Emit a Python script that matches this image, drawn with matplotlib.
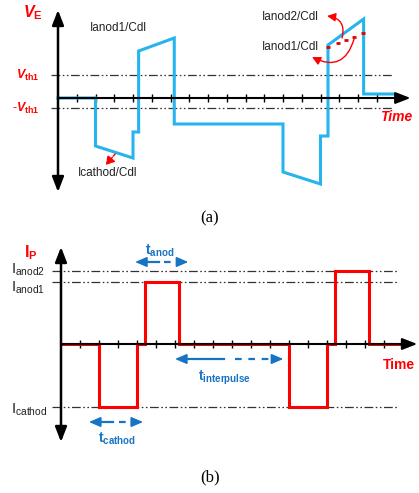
import matplotlib
matplotlib.use("Agg")
import matplotlib.pyplot as plt
import numpy as np

plt.rcParams['font.family'] = ['Liberation Sans', 'DejaVu Sans']
plt.rcParams['mathtext.fontset'] = 'custom'
plt.rcParams['mathtext.rm'] = 'Liberation Sans'
plt.rcParams['mathtext.it'] = 'Liberation Sans:style=italic:weight=bold'
plt.rcParams['mathtext.bf'] = 'Liberation Sans:weight=bold'

# ---------------- data ----------------
# (a) electrode voltage V_E versus time (schematic units)
ve_time = [0, 2, 2, 4, 4, 4.3, 4.3, 6.2, 6.2, 12, 12, 14, 14, 14.4, 14.4, 16.3, 16.3, 17.9]
ve_value = [0, 0, -48, -60, -34, -34, 47, 60, -26, -26, -74, -86, -38, -38, 53, 79, 4, 4]
vth_pos = 23
vth_neg = -10
ve_ticks = list(range(1, 18))
# red dots showing the Ianod1/Cdl slope in the last pulse
dots_time = [14.4, 14.93, 15.36, 15.79, 16.27]
dots_value = [51, 55, 58, 61, 65]

# (b) pulse current I_P versus time
ip_time = [0, 2, 2, 4, 4, 4.4, 4.4, 6.2, 6.2, 12, 12, 14, 14, 14.4, 14.4, 16.2, 16.2, 17.8]
ip_value = [0, 0, -63, -63, 0, 0, 62, 62, 0, 0, -63, -63, 0, 0, 73, 73, 0, 0]
i_anod2 = 73
i_anod1 = 62
i_cathod = -63
ip_ticks = list(range(1, 18))

W, H = 419, 493
fig = plt.figure(figsize=(W / 100, H / 100), dpi=100)

BLUE = '#25B4EC'
RED = '#FF0000'
ABLUE = '#1773C4'
DDASH = (0, (7, 2, 1.3, 2, 1.3, 2))


def axes_px(top, bottom):
    return fig.add_axes([0, 1 - bottom / H, 1, (bottom - top) / H])


# ---------------- panel (a) ----------------
axa = axes_px(0, 200)
x0a, sa = 58, 18.75
axa.set_xlim(-x0a / sa, (W - x0a) / sa)
axa.set_ylim(98 - 200, 98)
axa.axis('off')

for lvl in (vth_pos, vth_neg):
    axa.plot([-0.37, 17.87], [lvl, lvl], color='#333333', lw=0.9, ls=DDASH)
# axes
axa.annotate('', xy=(0, 88), xytext=(0, -94),
             arrowprops=dict(arrowstyle='<|-|>,head_length=0.9,head_width=0.35', lw=1.8,
                             color='black', shrinkA=0, shrinkB=0))
axa.annotate('', xy=(18.8, 0), xytext=(0, 0),
             arrowprops=dict(arrowstyle='-|>,head_length=0.9,head_width=0.35', lw=1.5,
                             color='black', shrinkA=0, shrinkB=0))
axa.plot(ve_ticks, np.zeros(len(ve_ticks)), ls='none', marker='|', ms=6, mew=1.0, color='black')
axa.plot(ve_time, ve_value, color=BLUE, lw=2.2, solid_joinstyle='miter')
axa.plot(dots_time, dots_value, ls='none', marker='_', ms=3, mew=2.0, color='#E00000')

axa.text(-1.33, 85, r'$\mathit{V}_{\mathbf{E}}$', color=RED, fontsize=11.5, ha='center', va='center')
axa.text(-1.0, vth_pos, r'$\mathit{V}_{\mathbf{th1}}$', color=RED, fontsize=9, ha='right', va='center')
axa.text(-1.0, vth_neg, r'-$\mathit{V}_{\mathbf{th1}}$', color=RED, fontsize=9, ha='right', va='center')
axa.text(1.71, 70, 'Ianod1/Cdl', fontsize=8.5, color='#222222', ha='left', va='center')
axa.text(1.07, -75, 'Icathod/Cdl', fontsize=8.5, color='#222222', ha='left', va='center')
axa.text(10.85, 81, 'Ianod2/Cdl', fontsize=8.5, color='#222222', ha='left', va='center')
axa.text(10.85, 51, 'Ianod1/Cdl', fontsize=8.5, color='#222222', ha='left', va='center')
axa.text(17.15, -19, 'Time', fontsize=10, color=RED, ha='left', va='center',
         fontweight='bold', fontstyle='italic')

axa.annotate('', xy=(14.35, 82), xytext=(15.15, 60),
             arrowprops=dict(arrowstyle='-|>,head_length=0.5,head_width=0.25', lw=1.0,
                             color=RED, shrinkA=0, shrinkB=0,
                             connectionstyle='arc3,rad=0.55'))
axa.annotate('', xy=(13.55, 41), xytext=(15.79, 59),
             arrowprops=dict(arrowstyle='-|>,head_length=0.5,head_width=0.25', lw=1.0,
                             color=RED, shrinkA=0, shrinkB=0,
                             connectionstyle='arc3,rad=-0.6'))
axa.annotate('', xy=(2.55, -67), xytext=(3.05, -56),
             arrowprops=dict(arrowstyle='-|>,head_length=0.5,head_width=0.3', lw=1.0,
                             color=RED, shrinkA=0, shrinkB=0, linestyle=(0, (2, 1))))

# ---------------- panel (b) ----------------
axb = axes_px(230, 460)
x0b, sb = 61, 19.0
axb.set_xlim(-x0b / sb, (W - x0b) / sb)
axb.set_ylim(344 - 460, 344 - 230)
axb.axis('off')

for lvl in (i_anod2, i_anod1, i_cathod):
    axb.plot([-0.47, 17.68], [lvl, lvl], color='#333333', lw=0.9, ls=DDASH)
axb.annotate('', xy=(0, 97), xytext=(0, -98),
             arrowprops=dict(arrowstyle='<|-|>,head_length=0.9,head_width=0.35', lw=1.8,
                             color='black', shrinkA=0, shrinkB=0))
axb.annotate('', xy=(18.75, 0), xytext=(0, 0),
             arrowprops=dict(arrowstyle='-|>,head_length=0.9,head_width=0.35', lw=1.5,
                             color='black', shrinkA=0, shrinkB=0))
axb.plot(ip_ticks, np.zeros(len(ip_ticks)), ls='none', marker='|', ms=6, mew=1.0, color='black')
axb.plot(ip_time, ip_value, color=RED, lw=2.2, solid_joinstyle='miter')

axb.text(-1.58, 91, r'$\mathbf{I}_{\mathbf{P}}$', color=RED, fontsize=11.5, ha='center', va='center')
axb.text(-2.62, i_anod2 + 1, r'$\mathrm{I}_{\mathrm{anod2}}$', fontsize=10.5, color='#222222',
         ha='left', va='center')
axb.text(-2.62, i_anod1 - 6, r'$\mathrm{I}_{\mathrm{anod1}}$', fontsize=10.5, color='#222222',
         ha='left', va='center')
axb.text(-2.62, i_cathod - 3, r'$\mathrm{I}_{\mathrm{cathod}}$', fontsize=10.5, color='#222222',
         ha='left', va='center')
axb.text(16.95, -21, 'Time', fontsize=10, color=RED, ha='left', va='center', fontweight='bold')


def span_arrow(ax, x1, x2, y):
    L = x2 - x1
    ax.plot([x1 + 0.3, x1 + 0.45 * L], [y, y], color=ABLUE, lw=1.6)
    ax.plot([x1 + 0.55 * L, x2 - 0.3], [y, y], color=ABLUE, lw=1.6, ls=(0, (3, 3)))
    for a, b in ((x1, x1 + 0.6), (x2, x2 - 0.6)):
        ax.annotate('', xy=(a, y), xytext=(b, y),
                    arrowprops=dict(arrowstyle='-|>,head_length=0.7,head_width=0.3', lw=1.2,
                                    color=ABLUE, shrinkA=0, shrinkB=0))


span_arrow(axb, 3.9, 6.7, 82)
span_arrow(axb, 1.47, 4.32, -78)
span_arrow(axb, 6.0, 11.7, -15)
axb.text(5.2, 93, r'$\mathbf{t}_{\mathbf{anod}}$', color=ABLUE, fontsize=10, ha='center', va='center')
axb.text(2.95, -95, r'$\mathbf{t}_{\mathbf{cathod}}$', color=ABLUE, fontsize=10, ha='center', va='center')
axb.text(8.6, -34, r'$\mathbf{t}_{\mathbf{interpulse}}$', color=ABLUE, fontsize=10,
         ha='center', va='center')

# captions
fig.text(210 / W, 1 - 218 / H, '(a)', fontsize=12, family='Liberation Serif', ha='center', va='center')
fig.text(210 / W, 1 - 477 / H, '(b)', fontsize=12, family='Liberation Serif', ha='center', va='center')

fig.savefig('out.png', dpi=100)
